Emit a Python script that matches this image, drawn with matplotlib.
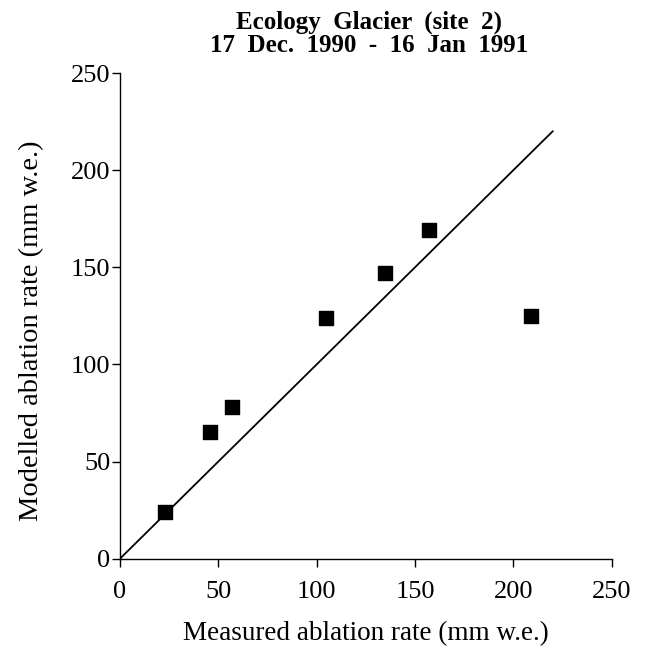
import matplotlib
matplotlib.use("Agg")
from matplotlib import pyplot as plt
import numpy as np

# measured vs modelled ablation
measured = [23, 46, 57, 105, 135, 157, 209]
modelled = [24, 65, 78, 124, 147, 169, 125]
ticks = [0, 50, 100, 150, 200, 250]
line_end = 220

plt.rcParams["font.family"] = ["Liberation Serif", "DejaVu Serif"]

fig = plt.figure(figsize=(6.48, 6.49), dpi=100)
ax = fig.add_axes([0.185, 0.139, 0.759, 0.7485])

one_to_one = np.array([0, line_end])
ax.plot(one_to_one, one_to_one, color="black", lw=1.3)
ax.scatter(measured, modelled, marker="s", s=100, color="black", zorder=3)

ax.set_xlim(0, 250)
ax.set_ylim(0, 250)
ax.set_xticks(ticks)
ax.set_yticks(ticks)
ax.tick_params(labelsize=19, length=6, width=1)
ax.tick_params(axis="x", pad=10)
ax.tick_params(axis="y", pad=1)
for side in ("top", "right"):
    ax.spines[side].set_visible(False)
for side in ("left", "bottom"):
    ax.spines[side].set_linewidth(1)

ax.set_xlabel("Measured ablation rate (mm w.e.)", fontsize=19.5, labelpad=13)
ax.set_ylabel("Modelled ablation rate (mm w.e.)", fontsize=20.5)
ax.yaxis.set_label_coords(-0.155, 0.47)
fig.text(0.57, 0.984, "Ecology  Glacier  (site  2)\n17  Dec.  1990  -  16  Jan  1991",
         ha="center", va="top", fontsize=18, fontweight="bold", linespacing=1.0)

fig.savefig("out.png", dpi=100)
